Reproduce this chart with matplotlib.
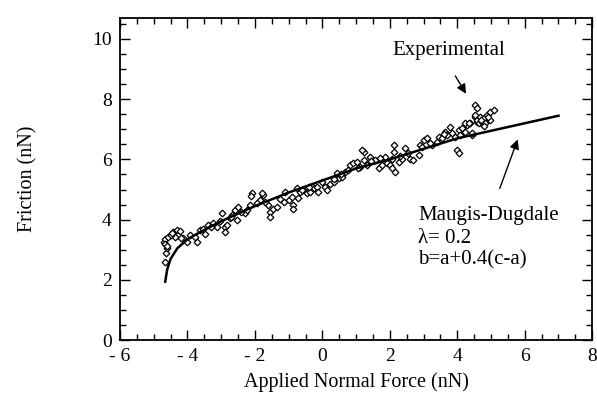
import matplotlib.pyplot as plt
from matplotlib.ticker import MultipleLocator, FixedLocator

exp_force = [-4.66, -4.64, -4.61, -4.71, -4.66, -4.57, -4.68, -4.62, -4.42, -4.32,
             -4.22, -4.37, -4.12, -4.02, -3.92, -3.77, -3.72, -3.63, -3.48, -3.38,
             -3.23, -3.13, -2.98, -2.88, -2.88, -2.83, -2.74, -2.69, -2.59, -2.52,
             -2.49, -2.29, -2.24, -2.14, -2.09, -2.12, -1.75, -1.78, -1.85, -1.60,
             -1.55, -1.55, -1.45, -1.35, -1.15, -1.10, -1.00, -0.90, -0.86, -0.86,
             -0.76, -0.71, -0.66, -0.56, -0.46, -0.36, -0.26, -0.16, -0.12, -0.01,
             0.08, 0.13, 0.23, 0.33, 0.43, 0.48, 0.58, 0.68, 0.82, 0.92,
             1.02, 1.12, 1.22, 1.17, 1.22, 1.32, 1.42, 1.57, 1.67, 1.77,
             1.86, 1.91, 2.01, 2.06, 2.06, 2.11, 2.11, 2.16, 2.26, 2.36,
             2.46, 2.61, 2.70, 2.85, 2.90, 3.00, 3.10, 3.25, 3.40, 3.45,
             3.55, 3.64, 3.79, 3.84, 3.94, 3.99, 4.04, 4.04, 4.09, 4.24,
             4.29, 4.39, 4.44, 4.53, 4.58, 4.24, 4.34, 4.44, 4.53, 4.58,
             4.53, 4.58, 4.63, 4.68, 4.73, 4.78, 4.83, 4.88, 4.98, 4.98,
             5.08, -4.50, -4.45, -3.55, -3.05, -2.40, -1.95, -1.25, -0.60, 0.35,
             0.75, 1.45, 1.70, 2.55, 3.20, 3.70, 4.15, 4.70, 4.90, -4.20,
             -3.30, -2.70, -1.70, -0.40, 0.55, 1.05, 2.30, 2.95, 3.60, 4.80]
exp_friction = [2.60, 2.88, 3.05, 3.27, 3.35, 3.43, 3.20, 3.12, 3.60, 3.65,
                3.63, 3.43, 3.38, 3.27, 3.49, 3.43, 3.27, 3.65, 3.54, 3.82,
                3.88, 3.76, 4.21, 3.76, 3.60, 3.82, 4.04, 4.15, 4.32, 3.99,
                4.41, 4.21, 4.32, 4.49, 4.87, 4.78, 4.82, 4.90, 4.65, 4.49,
                4.26, 4.10, 4.37, 4.43, 4.60, 4.93, 4.65, 4.76, 4.49, 4.37,
                5.04, 4.71, 4.93, 4.98, 4.87, 4.93, 5.04, 5.09, 4.93, 5.26,
                5.09, 4.98, 5.20, 5.26, 5.54, 5.37, 5.43, 5.59, 5.81, 5.87,
                5.92, 5.76, 6.26, 6.31, 5.98, 5.81, 6.09, 5.98, 5.70, 5.81,
                6.09, 5.87, 5.81, 5.70, 6.03, 6.26, 6.48, 5.59, 5.92, 6.03,
                6.37, 6.03, 5.98, 6.15, 6.48, 6.64, 6.70, 6.48, 6.59, 6.75,
                6.70, 6.92, 7.09, 6.87, 6.75, 6.31, 6.20, 6.98, 6.81, 6.92,
                7.14, 7.20, 6.81, 7.42, 7.25, 7.20, 7.20, 6.87, 7.81, 7.70,
                7.47, 7.31, 7.20, 7.42, 7.25, 7.36, 7.20, 7.47, 7.59, 7.31,
                7.64, 3.50, 3.55, 3.70, 3.95, 4.25, 4.55, 4.70, 5.00, 5.35,
                5.65, 5.95, 6.05, 6.20, 6.55, 6.80, 7.05, 7.30, 7.40, 3.40,
                3.75, 4.10, 4.60, 5.10, 5.50, 5.70, 6.10, 6.40, 6.85, 7.10]

# Maugis-Dugdale model curve
md_force = [-4.66, -4.60, -4.50, -4.30, -4.00, -3.60, -3.00, -2.50, -2.00, -1.00,
            0.00, 1.00, 2.00, 3.00, 4.00, 5.00, 6.00, 7.00]
md_friction = [1.94, 2.35, 2.70, 3.05, 3.35, 3.60, 3.95, 4.20, 4.45, 4.90,
               5.30, 5.70, 6.00, 6.35, 6.70, 6.95, 7.20, 7.45]

x_ticks = [-6, -4, -2, 0, 2, 4, 6, 8]
x_tick_labels = ['- 6', '- 4', '- 2', '0', '2', '4', '6', '8']
y_ticks = [0, 2, 4, 6, 8, 10]

plt.rcParams['font.family'] = ['Liberation Serif', 'DejaVu Serif']

fig = plt.figure(figsize=(5.97, 3.96), dpi=100)
ax = fig.add_axes([0.201, 0.141, 0.791, 0.814])

ax.plot(md_force, md_friction, color='black', lw=1.8, zorder=3)
ax.plot(exp_force, exp_friction, linestyle='none', marker='D', ms=3.4,
        mfc='white', mec='black', mew=0.9, zorder=2)

ax.set_xlim(-6, 8)
ax.set_ylim(0, 10.7)
ax.xaxis.set_major_locator(FixedLocator(x_ticks))
ax.set_xticklabels(x_tick_labels)
ax.yaxis.set_major_locator(FixedLocator(y_ticks))
ax.xaxis.set_minor_locator(MultipleLocator(0.5))
ax.yaxis.set_minor_locator(MultipleLocator(0.5))
ax.tick_params(which='both', direction='in', top=True, right=True,
               labelsize=14, width=1)
ax.tick_params(which='major', length=7, pad=6)
ax.tick_params(which='minor', length=4)
for s in ax.spines.values():
    s.set_linewidth(1.3)

ax.set_xlabel('Applied Normal Force (nN)', fontsize=14.5)
ax.set_ylabel('Friction (nN)', fontsize=14.5)
ax.xaxis.set_label_coords(0.5, -0.1)
ax.yaxis.set_label_coords(-0.175, 0.5)

# labels with arrows
ax.text(3.75, 9.6, 'Experimental', fontsize=15, ha='center', va='center')
ax.annotate('', xy=(4.3, 8.1), xytext=(3.9, 8.85),
            arrowprops=dict(arrowstyle='-|>', color='black', lw=1,
                            mutation_scale=14))
ax.annotate('', xy=(5.82, 6.75), xytext=(5.23, 4.95),
            arrowprops=dict(arrowstyle='-|>', color='black', lw=1,
                            mutation_scale=14))
ax.text(2.84, 4.15, 'Maugis-Dugdale', fontsize=15, va='center')
ax.text(2.84, 3.39, 'λ= 0.2', fontsize=15, va='center')
ax.text(2.84, 2.66, 'b=a+0.4(c-a)', fontsize=15, va='center')

fig.savefig('out.png', dpi=100)
